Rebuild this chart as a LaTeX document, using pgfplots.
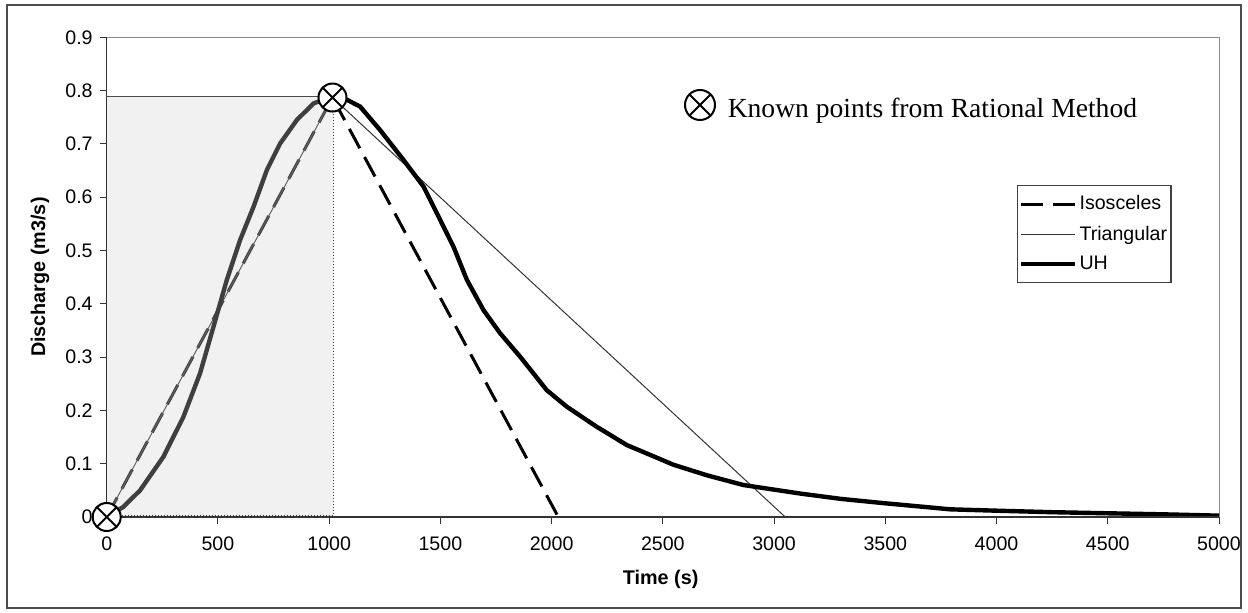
\documentclass[border=0pt]{standalone}
\usepackage{pgfplots}
\pgfplotsset{compat=1.18}
\usepackage{fontspec}
\setmainfont{Liberation Sans}
\newfontfamily\timesfont{Liberation Serif}
\usetikzlibrary{plotmarks}

\pgfplotstableread{
x y
0 0
75 0.019
150 0.05
255 0.113
345 0.188
420 0.27
480 0.357
540 0.445
600 0.52
660 0.582
720 0.651
780 0.701
855 0.745
930 0.776
1000 0.787
1079 0.783
1139 0.770
1229 0.726
1334 0.67
1424 0.62
1484 0.57
1559 0.507
1619 0.445
1694 0.388
1768 0.345
1858 0.301
1978 0.238
2068 0.207
2200 0.17
2338 0.135
2548 0.098
2700 0.078
2862 0.060
3117 0.044
3300 0.034
3492 0.026
3792 0.0144
4002 0.0118
4250 0.009
4496 0.007
4750 0.005
5000 0.0025
}\uhdata

\begin{document}
\begin{tikzpicture}
\useasboundingbox (0,0) rectangle (624pt,-306.5pt);
\draw[black!70, line width=0.6pt] (3.5pt,-2.5pt) rectangle (620.5pt,-304pt);
\begin{axis}[
  at={(53.35pt,-258.5pt)}, anchor=south west,
  scale only axis, width=556.15pt, height=239.85pt,
  xmin=0, xmax=5000, ymin=0, ymax=0.9,
  xtick={0,500,...,5000},
  ytick={0,0.1,0.2,0.3,0.4,0.5,0.6,0.7,0.8,0.9},
  yticklabels={0,0.1,0.2,0.3,0.4,0.5,0.6,0.7,0.8,0.9},
  /pgf/number format/1000 sep={},
  /pgf/number format/assume math mode=true,
  tick align=outside, major tick length=3.5pt,
  xtick pos=bottom, ytick pos=left,
  tick style={black!80, line width=0.5pt},
  ticklabel style={font=\fontsize{9.8}{11}\selectfont},
  xticklabel style={yshift=-3pt},
  axis line style={draw=black!45, line width=0.5pt},
  xlabel={\textbf{Time (s)}},
  ylabel={\textbf{Discharge (m3/s)}},
  label style={font=\fontsize{9.9}{12}\selectfont},
  xlabel style={at={(axis description cs:0.498,-0.131)}, anchor=center},
  ylabel style={at={(axis description cs:-0.060,0.5)}, anchor=center},
  legend style={at={(axis description cs:0.818,0.692)}, anchor=north west,
    draw=black!75, line width=0.6pt, font=\fontsize{9.8}{11}\selectfont,
    row sep=4.5pt, inner xsep=1pt, inner ysep=4pt,
    nodes={inner sep=1pt}},
  legend cell align=left,
  legend image code/.code={\draw[#1] (0pt,0pt) -- (27pt,0pt);},
  clip=false,
]
\addplot[black, line width=1.5pt, dash pattern=on 11pt off 5pt] coordinates {(0,0) (1015,0.787) (2030,0)};
\addlegendentry{Isosceles}
\addplot[black!80, line width=0.5pt] coordinates {(0,0) (1015,0.787) (3050,0)};
\addlegendentry{Triangular\hspace{1pt}}
\addplot[black, line width=2.2pt] table[x=x,y=y] {\uhdata};
\addlegendentry{UH}
% shaded area
\addplot[forget plot, draw=none, fill=gray!35, fill opacity=0.3] coordinates {(0,0) (0,0.788) (1019,0.788) (1019,0)} -- cycle;
\addplot[forget plot, black!75, line width=0.5pt, densely dotted] coordinates {(0,0.003) (1019,0.003) (1019,0.788)};
\addplot[forget plot, black!70, line width=0.5pt] coordinates {(0,0.788) (1019,0.788)};
% axis lines
\draw[black!80, line width=0.6pt] (rel axis cs:0,1) -- (rel axis cs:0,0) -- (rel axis cs:1,0);
% known points
\addplot[forget plot, only marks, mark=otimes*, mark size=7pt, mark options={fill=white, draw=black, line width=1pt}] coordinates {(0,0) (1015,0.787)};
\addplot[forget plot, only marks, mark=otimes*, mark size=7.5pt, mark options={fill=white, draw=black, line width=1pt}] coordinates {(2667,0.773)};
\node[anchor=base west, inner sep=0pt, font=\timesfont\fontsize{13.8}{16}\selectfont] at (axis cs:2790,0.749) {Known points from Rational Method};
\end{axis}
\end{tikzpicture}
\end{document}
